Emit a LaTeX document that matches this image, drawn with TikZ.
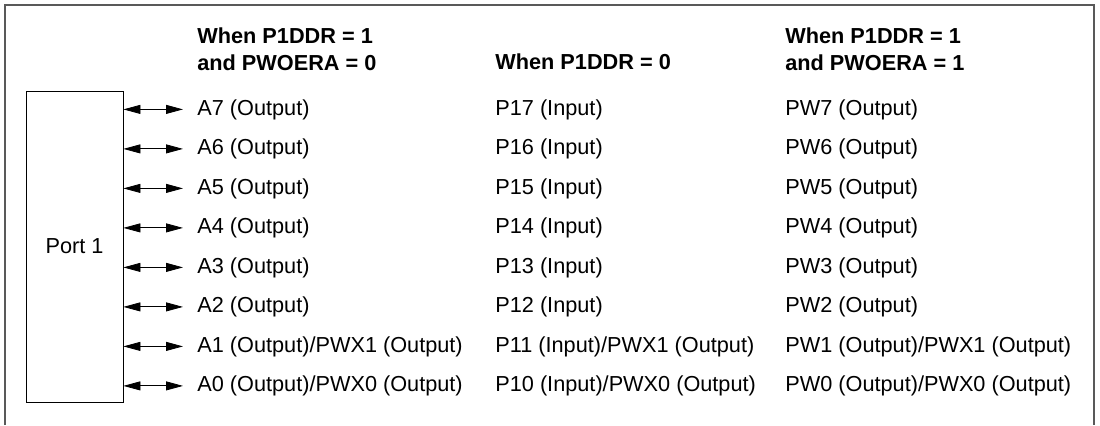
\documentclass[tikz,border=0pt]{standalone}
\usepackage{fontspec}
\setmainfont{Liberation Sans}
\usetikzlibrary{arrows.meta}

\begin{document}
\begin{tikzpicture}[x=0.5pt,y=-0.5pt,
  txt/.style={anchor=base west, inner sep=0pt, font=\fontsize{10.85}{13.5}\selectfont},
  head/.style={txt, font=\fontsize{10.85}{13.5}\selectfont\bfseries},
  pin/.style={{Triangle[length=8.5pt,width=4.5pt]}-{Triangle[length=8.5pt,width=4.5pt]}, shorten >=7pt}]
\useasboundingbox (0,0) rectangle (1100,425);
\draw[black!65, line width=0.8pt] (5,425) -- (5,5) -- (1094,5) -- (1094,425);
%headers
\node[head, anchor=north west, align=left] (ha) at (197,27) {When P1DDR = 1\\and PWOERA = 0};
\node[head] (hp) at (495,69) {When P1DDR = 0};
\node[head, anchor=north west, align=left] (hw) at (785,27) {When P1DDR = 1\\and PWOERA = 1};
\node[draw, minimum width=48.5pt, minimum height=155.5pt, inner sep=0pt, font=\fontsize{10.85}{13.5}\selectfont] (port) at (74.5,246.5) {Port 1};
%rows
\node[txt] (a7) at (197,115) {A7 (Output)};
\node[txt] (a6) at (197,154.5) {A6 (Output)};
\node[txt] (a5) at (197,194) {A5 (Output)};
\node[txt] (a4) at (197,233.5) {A4 (Output)};
\node[txt] (a3) at (197,273) {A3 (Output)};
\node[txt] (a2) at (197,312.5) {A2 (Output)};
\node[txt] (a1) at (197,352) {A1 (Output)/PWX1 (Output)};
\node[txt] (a0) at (197,391.5) {A0 (Output)/PWX0 (Output)};
\node[txt] (p7) at (495,115) {P17 (Input)};
\node[txt] (p6) at (495,154.5) {P16 (Input)};
\node[txt] (p5) at (495,194) {P15 (Input)};
\node[txt] (p4) at (495,233.5) {P14 (Input)};
\node[txt] (p3) at (495,273) {P13 (Input)};
\node[txt] (p2) at (495,312.5) {P12 (Input)};
\node[txt] (p1) at (495,352) {P11 (Input)/PWX1 (Output)};
\node[txt] (p0) at (495,391.5) {P10 (Input)/PWX0 (Output)};
\node[txt] (w7) at (785,115) {PW7 (Output)};
\node[txt] (w6) at (785,154.5) {PW6 (Output)};
\node[txt] (w5) at (785,194) {PW5 (Output)};
\node[txt] (w4) at (785,233.5) {PW4 (Output)};
\node[txt] (w3) at (785,273) {PW3 (Output)};
\node[txt] (w2) at (785,312.5) {PW2 (Output)};
\node[txt] (w1) at (785,352) {PW1 (Output)/PWX1 (Output)};
\node[txt] (w0) at (785,391.5) {PW0 (Output)/PWX0 (Output)};
%arrows
\draw[pin] (port.east |- a7.west) -- (a7.west);
\draw[pin] (port.east |- a6.west) -- (a6.west);
\draw[pin] (port.east |- a5.west) -- (a5.west);
\draw[pin] (port.east |- a4.west) -- (a4.west);
\draw[pin] (port.east |- a3.west) -- (a3.west);
\draw[pin] (port.east |- a2.west) -- (a2.west);
\draw[pin] (port.east |- a1.west) -- (a1.west);
\draw[pin] (port.east |- a0.west) -- (a0.west);
\end{tikzpicture}
\end{document}
